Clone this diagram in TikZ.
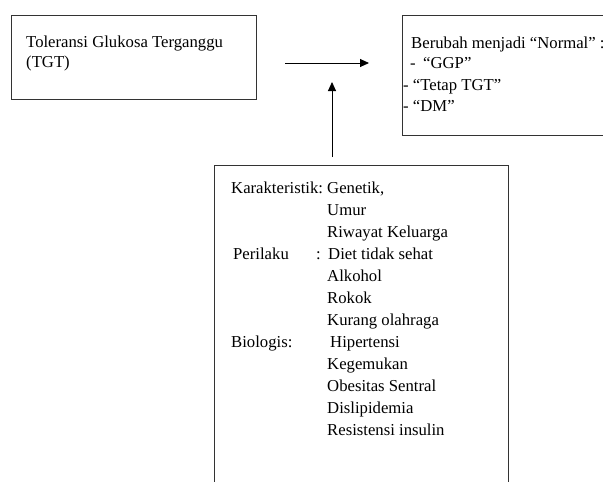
\documentclass[tikz,border=0pt]{standalone}
\usepackage{fontspec}
\setmainfont{Liberation Serif}
\usetikzlibrary{arrows.meta}
\tikzset{
  kotak/.style={draw=black!80, line width=0.9pt, anchor=north west, inner sep=0pt},
  teks/.style={anchor=base west, inner sep=0pt, font=\fontsize{16.7}{20}\selectfont},
  panah/.style={line width=0.9pt, -{Triangle[length=9pt,width=8pt]}}
}

\begin{document}
\begin{tikzpicture}[x=1pt,y=-1pt]
        \useasboundingbox (0,0) rectangle (603,482);
        \clip (0,0) rectangle (603,482);
        % Boxes
        \node[kotak, minimum width=245pt, minimum height=84pt] (tgt) at (11,15) {};
        \node[kotak, minimum width=230pt, minimum height=120pt] (hasil) at (402,15) {};
        \node[kotak, minimum width=294pt, minimum height=340pt] (faktor) at (214,165) {};
        % Text of the first box
        \node[teks] (tgtA) at (26,47) {Toleransi Glukosa Terganggu};
        \node[teks] (tgtB) at (26,67) {(TGT)};
        % Text of the second box
        \node[teks] (hasilA) at (411,48) {Berubah menjadi “Normal” :};
        \node[teks] (hasilB) at (410,68) {-};
        \node[teks] (hasilC) at (423,68) {“GGP”};
        \node[teks] (hasilD) at (403,90) {- “Tetap TGT”};
        \node[teks] (hasilE) at (403,111) {- “DM”};
        % Labels of the third box
        \node[teks] (karakter) at (231,193) {Karakteristik:};
        \node[teks] (perilaku) at (233,259) {Perilaku};
        \node[teks] (titik) at (316,259) {:};
        \node[teks] (biologis) at (231,347) {Biologis:};
        % Items of the third box
        \foreach \isi/\xx [count=\i] in {{Genetik,}/327, Umur/327, Riwayat Keluarga/327,
            Diet tidak sehat/328, Alkohol/327, Rokok/327, Kurang olahraga/327,
            Hipertensi/330, Kegemukan/327, Obesitas Sentral/327, Dislipidemia/327,
            Resistensi insulin/327}
            \node[teks] (item\i) at (\xx,171+22*\i) {\isi};
        % Arrows
        \coordinate (kiri) at (285,63);
        \coordinate (kanan) at (369,63);
        \coordinate (bawah) at (332,157);
        \coordinate (atas) at (332,82);
        \draw[panah] (kiri) -- (kanan);
        \draw[panah] (bawah) -- (atas);
    \end{tikzpicture}
\end{document}
